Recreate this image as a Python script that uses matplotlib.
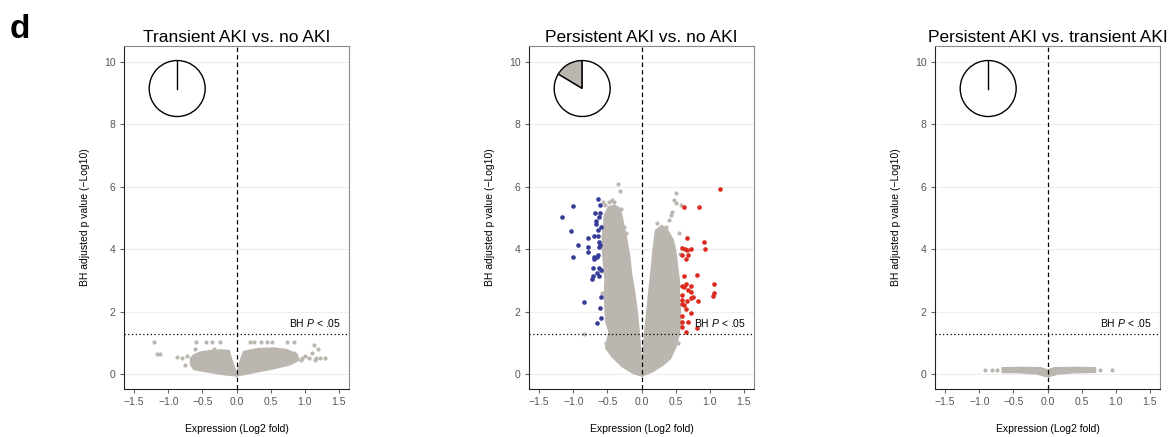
import matplotlib
matplotlib.use('Agg')
import matplotlib.pyplot as plt

plt.rcParams['font.family'] = ['Liberation Sans', 'DejaVu Sans']
plt.rcParams['mathtext.fontset'] = 'custom'
plt.rcParams['mathtext.rm'] = 'Liberation Sans'
plt.rcParams['mathtext.it'] = 'Liberation Sans:italic'

titles = ['Transient AKI vs. no AKI', 'Persistent AKI vs. no AKI', 'Persistent AKI vs. transient AKI']
sig_fraction = [0.0, 0.164, 0.0]
threshold = 1.301  # -log10(0.05)

# dense clouds, outline vertices (log2 fold, -log10 p)
transient_left_lobe = [(0.0, -0.04), (-0.19, 0.0), (-0.43, 0.085), (-0.62, 0.16), (-0.67, 0.30),
                       (-0.67, 0.51), (-0.62, 0.62), (-0.53, 0.70), (-0.38, 0.75), (-0.23, 0.77),
                       (-0.11, 0.75), (-0.08, 0.51), (-0.04, 0.25), (0.0, 0.03)]
transient_right_lobe = [(0.0, -0.04), (0.11, 0.0), (0.30, 0.085), (0.55, 0.19), (0.79, 0.32),
                        (0.91, 0.46), (0.89, 0.62), (0.74, 0.78), (0.55, 0.83), (0.30, 0.81),
                        (0.11, 0.72), (0.07, 0.51), (0.03, 0.19)]
transient_gray_x = [-1.21, -1.16, -1.12, -0.87, -0.80, -0.72, -0.75, -0.59, -0.45, -0.36, -0.24,
                    -0.61, -0.33, 0.20, 0.25, 0.36, 0.45, 0.52, 0.74, 0.85, 1.14, 1.19, 1.01,
                    1.06, 0.96, 1.16, 1.23, 1.30, 0.84, 0.94, 1.10, 1.15]
transient_gray_y = [1.02, 0.64, 0.64, 0.54, 0.51, 0.57, 0.30, 1.02, 1.02, 1.02, 1.02,
                    0.81, 0.81, 1.02, 1.02, 1.02, 1.02, 1.02, 1.02, 1.02, 0.94, 0.81, 0.57,
                    0.51, 0.53, 0.51, 0.51, 0.51, 0.67, 0.46, 0.69, 0.46]

persist_left_lobe = [(0.0, -0.04), (-0.11, 0.03), (-0.28, 0.25), (-0.43, 0.57), (-0.52, 0.85),
                     (-0.50, 1.10), (-0.47, 1.35), (-0.52, 1.70), (-0.53, 2.1), (-0.54, 2.5),
                     (-0.53, 3.0), (-0.55, 3.5), (-0.57, 4.0), (-0.57, 4.4), (-0.55, 4.8),
                     (-0.54, 5.1), (-0.48, 5.35), (-0.40, 5.40), (-0.32, 5.30), (-0.28, 4.95),
                     (-0.25, 4.6), (-0.22, 4.3), (-0.18, 3.8), (-0.15, 3.2), (-0.11, 2.7),
                     (-0.07, 2.05), (-0.04, 1.4), (-0.015, 0.75)]
persist_right_lobe = [(0.015, -0.04), (0.16, 0.09), (0.31, 0.30), (0.42, 0.50), (0.50, 0.88),
                      (0.55, 1.3), (0.57, 1.9), (0.55, 2.5), (0.55, 3.0), (0.52, 3.5),
                      (0.50, 3.9), (0.46, 4.3), (0.38, 4.6), (0.30, 4.75), (0.21, 4.6),
                      (0.17, 3.9), (0.15, 3.4), (0.12, 2.8), (0.09, 2.16), (0.06, 1.5),
                      (0.03, 0.85)]
persist_gray_x = [-0.85, -0.34, -0.32, -0.43, -0.57, -0.53, -0.47, -0.41, -0.36, -0.30, -0.25,
                  -0.23, -0.52, -0.50, -0.45, -0.58, -0.58, 0.50, 0.48, 0.51, 0.58, 0.45,
                  0.43, 0.41, 0.23, 0.36, 0.27, 0.38, 0.55, 0.23, 0.36, 0.48, 0.46, 0.56,
                  0.53, 0.57]
persist_gray_y = [1.28, 6.08, 5.86, 5.58, 5.52, 5.42, 5.50, 5.50, 5.26, 5.30, 4.72,
                  4.51, 0.99, 0.84, 0.70, 3.30, 2.60, 5.81, 5.58, 5.49, 5.43, 5.20,
                  5.10, 4.94, 4.85, 4.72, 4.59, 4.51, 4.51, 4.46, 4.14, 3.82, 3.55, 3.85,
                  1.00, 1.60]
persist_down_x = [-1.17, -1.00, -1.03, -0.93, -1.00, -0.78, -0.78, -0.79, -0.84, -0.64, -0.61,
                  -0.68, -0.61, -0.62, -0.67, -0.67, -0.59, -0.64, -0.69, -0.64, -0.62, -0.63,
                  -0.61, -0.69, -0.66, -0.69, -0.64, -0.71, -0.63, -0.59, -0.65, -0.71, -0.72,
                  -0.62, -0.60, -0.61, -0.59, -0.66]
persist_down_y = [5.04, 5.38, 4.58, 4.12, 3.74, 4.37, 4.06, 3.90, 2.31, 5.60, 5.43,
                  5.15, 5.15, 5.04, 4.91, 4.81, 4.72, 4.62, 4.42, 4.42, 4.22, 4.06,
                  4.14, 3.76, 3.74, 3.69, 3.80, 3.39, 3.39, 3.34, 3.23, 3.14, 3.04,
                  3.14, 2.48, 2.11, 1.79, 1.63]
persist_up_x = [1.15, 0.62, 0.84, 0.67, 0.91, 0.93, 0.60, 0.64, 0.67, 0.73, 0.60, 0.68, 0.65,
                0.62, 0.82, 1.07, 0.65, 0.59, 0.62, 0.72, 0.68, 0.73, 0.76, 0.73, 0.60, 1.07,
                1.05, 0.60, 0.67, 0.83, 0.60, 0.62, 0.65, 0.72, 0.60, 0.59, 0.68, 0.60, 0.82,
                0.65]
persist_up_y = [5.94, 5.35, 5.35, 4.37, 4.23, 4.00, 4.05, 4.00, 3.96, 4.02, 3.80, 3.81, 3.68,
                3.16, 3.17, 2.90, 2.90, 2.83, 2.78, 2.83, 2.70, 2.63, 2.48, 2.45, 2.54, 2.59,
                2.51, 2.38, 2.35, 2.35, 2.24, 2.23, 2.08, 1.97, 1.88, 1.68, 1.67, 1.52, 1.49,
                1.36]

tvt_band = [(-0.66, 0.07), (-0.66, 0.20), (-0.35, 0.21), (-0.10, 0.20), (0.0, 0.13), (0.10, 0.20),
            (0.40, 0.21), (0.70, 0.20), (0.70, 0.07), (0.40, 0.06), (0.15, 0.02), (0.03, -0.06),
            (-0.03, -0.06), (-0.15, 0.02), (-0.40, 0.06)]
tvt_gray_x = [-0.91, -0.81, -0.74, 0.77, 0.94]
tvt_gray_y = [0.14, 0.14, 0.14, 0.14, 0.14]

GRAY = '#bbb6b0'
BLUE = '#373c97'
RED = '#dd2a1f'

clouds = [[transient_left_lobe, transient_right_lobe],
          [persist_left_lobe, persist_right_lobe],
          [tvt_band]]
grays = [(transient_gray_x, transient_gray_y), (persist_gray_x, persist_gray_y), (tvt_gray_x, tvt_gray_y)]

fig = plt.figure(figsize=(11.7, 4.37), dpi=100)
lefts = [124, 529, 935]
W, H = 1170, 437

for i in range(3):
    ax = fig.add_axes([lefts[i] / W, 48 / H, 225 / W, 343 / H])
    ax.set_xlim(-1.65, 1.65)
    ax.set_ylim(-0.47, 10.5)
    ax.set_xticks([-1.5, -1.0, -0.5, 0.0, 0.5, 1.0, 1.5])
    ax.set_yticks([0, 2, 4, 6, 8, 10])
    ax.yaxis.grid(True, color='#eeeeee', lw=0.8)
    ax.set_axisbelow(True)
    for s in ['left', 'bottom']:
        ax.spines[s].set_color('#222222')
    for s in ['top', 'right']:
        ax.spines[s].set_color('#8a8a8a')
    ax.tick_params(length=3, width=0.8, color='#666666', labelcolor='#555555', labelsize=7.5, pad=3)

    for poly in clouds[i]:
        xs = [p[0] for p in poly]
        ys = [p[1] for p in poly]
        ax.fill(xs, ys, color=GRAY, lw=1.5, ec=GRAY, zorder=2)
    gx, gy = grays[i]
    ax.scatter(gx, gy, s=9, color=GRAY, lw=0, zorder=2)
    if i == 1:
        ax.scatter(persist_down_x, persist_down_y, s=11, color=BLUE, lw=0, zorder=3)
        ax.scatter(persist_up_x, persist_up_y, s=11, color=RED, lw=0, zorder=3)

    ax.axvline(0, color='black', lw=0.9, ls=(0, (3.5, 2.5)), zorder=4)
    ax.axhline(threshold, color='black', lw=0.9, ls=(0, (1, 2)), zorder=4)
    ax.text(1.53, threshold + 0.15, 'BH $P$ < .05', ha='right', va='bottom', fontsize=7.5, zorder=5)

    ax.set_title(titles[i], fontsize=12.5, pad=3)
    ax.set_xlabel('Expression (Log2 fold)', fontsize=7.5, labelpad=12)
    ax.set_ylabel('BH adjusted p value (\u2212Log10)', fontsize=7.5, labelpad=10)

    # pie of the share of significant proteins
    d = 56 * 1.03
    pie_ax = ax.inset_axes([-0.87 - d / 2 / 68.2, 9.14 - d / 2 / 31.27, d / 68.2, d / 31.27],
                           transform=ax.transData)
    pie_ax.pie([sig_fraction[i], 1 - sig_fraction[i]], colors=['#bab5af', 'white'], startangle=90,
               counterclock=True, wedgeprops=dict(edgecolor='black', linewidth=1.0))
    if sig_fraction[i] == 0:
        # empty wedge still shows its radius at 12 o'clock
        pie_ax.plot([0, 0], [0, 1], color='black', lw=1.0)
    pie_ax.set_xlim(-1.03, 1.03)
    pie_ax.set_ylim(-1.03, 1.03)

fig.text(10 / W, 1 - 38 / H, 'd', fontsize=24, fontweight='bold', ha='left', va='baseline')

fig.savefig('out.png')
